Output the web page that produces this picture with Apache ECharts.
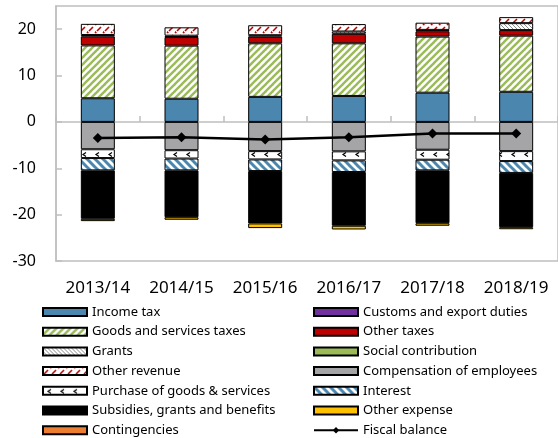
<!DOCTYPE html>
<html>
<head>
<meta charset="utf-8">
<script src="https://cdn.jsdelivr.net/npm/echarts@6/dist/echarts.min.js"></script>
<style>html,body{margin:0;padding:0;background:#fff;overflow:hidden;}#chart{width:558px;height:438px;}</style>
</head>
<body>
<div id="chart"></div>
<script>
const categories = ['2013/14','2014/15','2015/16','2016/17','2017/18','2018/19'];
const incomeTax = [5.1, 5.0, 5.4, 5.6, 6.3, 6.5];
const customsDuties = [0, 0, 0, 0, 0, 0];
const goodsServicesTaxes = [11.4, 11.45, 11.55, 11.35, 12.1, 12.1];
const otherTaxes = [1.95, 1.85, 1.45, 2.05, 1.15, 1.2];
const socialContribution = [0, 0, 0, 0, 0, 0];
const grants = [0.3, 0.3, 0.3, 0.5, 0.3, 1.5];
const otherRevenue = [2.4, 1.8, 2.15, 1.6, 1.55, 1.3];
const compensation = [-5.9, -6.1, -6.3, -6.35, -6.0, -6.3];
const purchaseGoods = [-1.9, -1.8, -1.8, -1.95, -2.15, -2.15];
const interest = [-2.65, -2.55, -2.5, -2.5, -2.3, -2.55];
const subsidies = [-10.45, -10.1, -11.3, -11.6, -11.4, -11.7];
const otherExpense = [-0.5, -0.55, -1.0, -0.8, -0.55, -0.45];
const contingencies = [0, 0, 0, 0, 0, 0];
const fiscalBalance = [-3.45, -3.3, -3.8, -3.3, -2.5, -2.5];
const yTicks = [-30, -20, -10, 0, 10, 20];

function pattern(w, h, draw) {
  const c = document.createElement('canvas');
  c.width = w; c.height = h;
  const ctx = c.getContext('2d');
  ctx.fillStyle = '#fff';
  ctx.fillRect(0, 0, w, h);
  draw(ctx, w, h);
  return { image: c, repeat: 'repeat' };
}
function upDiag(color, lw, size) {
  return pattern(size, size, (ctx) => {
    ctx.strokeStyle = color; ctx.lineWidth = lw;
    ctx.beginPath(); ctx.moveTo(-1, size + 1); ctx.lineTo(size + 1, -1); ctx.stroke();
    ctx.beginPath(); ctx.moveTo(-1 - size, size + 1); ctx.lineTo(1, -1); ctx.stroke();
    ctx.beginPath(); ctx.moveTo(size - 1, size + 1); ctx.lineTo(2 * size + 1, -1); ctx.stroke();
  });
}
function downDiag(color, lw, size) {
  return pattern(size, size, (ctx) => {
    ctx.strokeStyle = color; ctx.lineWidth = lw;
    ctx.beginPath(); ctx.moveTo(-1, -1); ctx.lineTo(size + 1, size + 1); ctx.stroke();
    ctx.beginPath(); ctx.moveTo(-1 - size, -1); ctx.lineTo(1, size + 1); ctx.stroke();
    ctx.beginPath(); ctx.moveTo(size - 1, -1); ctx.lineTo(2 * size + 1, size + 1); ctx.stroke();
  });
}
const goodsPattern = upDiag('#9BBB59', 2.4, 7);
const otherRevPattern = pattern(8, 8, (ctx) => {
  ctx.strokeStyle = '#C00000'; ctx.lineWidth = 1.6;
  ctx.beginPath(); ctx.moveTo(1, 7); ctx.lineTo(5, 3); ctx.stroke();
  ctx.beginPath(); ctx.moveTo(-3, 3); ctx.lineTo(1, -1); ctx.stroke();
  ctx.beginPath(); ctx.moveTo(5, 11); ctx.lineTo(9, 7); ctx.stroke();
  ctx.beginPath(); ctx.moveTo(7, 1); ctx.lineTo(9, -1); ctx.stroke();
});
const grantsPattern = downDiag('#8C8C8C', 1, 4);
const interestPattern = downDiag('#4A86AE', 3, 8);
const purchasePattern = pattern(13, 10, (ctx) => {
  ctx.strokeStyle = '#000'; ctx.lineWidth = 1.2;
  ctx.beginPath(); ctx.moveTo(8, 2.5); ctx.lineTo(5, 4.5); ctx.lineTo(8, 6.5); ctx.stroke();
});

const BORDER = { borderColor: '#000', borderWidth: 1 };
function toData(arr) { return arr.map(v => (v === 0 ? null : v)); }
function bar(name, data, color) {
  return {
    name: name, type: 'bar', stack: 'total', barWidth: 34,
    xAxisIndex: 0, yAxisIndex: 0,
    data: toData(data),
    itemStyle: Object.assign({ color: color }, BORDER),
    emphasis: { disabled: true }
  };
}

const series = [
  bar('Income tax', incomeTax, '#4A86AE'),
  bar('Customs and export duties', customsDuties, '#7030A0'),
  bar('Goods and services taxes', goodsServicesTaxes, goodsPattern),
  bar('Other taxes', otherTaxes, '#C00000'),
  bar('Social contribution', socialContribution, '#9BBB59'),
  bar('Grants', grants, grantsPattern),
  bar('Other revenue', otherRevenue, otherRevPattern),
  bar('Compensation of employees', compensation, '#A5A5A8'),
  bar('Purchase of goods & services', purchaseGoods, purchasePattern),
  bar('Interest', interest, interestPattern),
  bar('Subsidies, grants and benefits', subsidies, '#000000'),
  bar('Other expense', otherExpense, '#FFC000'),
  bar('Contingencies', contingencies, '#ED7D31'),
  {
    name: 'Fiscal balance', type: 'line', data: fiscalBalance,
    xAxisIndex: 0, yAxisIndex: 0, z: 10,
    symbol: 'diamond', symbolSize: 10,
    lineStyle: { color: '#000', width: 2.5 },
    itemStyle: { color: '#000' },
    emphasis: { disabled: true }
  }
];

const legendText = { fontFamily: 'Noto Sans', fontSize: 13, color: '#000', lineHeight: 14 };
function legendItems(names) { return names.map(n => (n === 'Fiscal balance' ? { name: n } : { name: n, icon: 'rect' })); }
const option = {
  animation: false,
  backgroundColor: '#fff',
  grid: { left: 56, top: 6, right: -5, bottom: 177, show: true, borderColor: '#BFBFBF', borderWidth: 1.5, backgroundColor: 'transparent' },
  xAxis: [
    {
      type: 'category', data: categories, position: 'bottom',
      axisLine: { show: true, onZero: true, lineStyle: { color: '#BFBFBF', width: 1.5 } },
      axisTick: { show: true, inside: true, length: 6, lineStyle: { color: '#BFBFBF', width: 1.5 } },
      axisLabel: { show: false }, splitLine: { show: false }
    },
    {
      type: 'category', data: categories, position: 'bottom',
      axisLine: { show: false, onZero: false }, axisTick: { show: false },
      axisLabel: { show: true, interval: 0, margin: 19, fontFamily: 'Noto Sans', fontSize: 17, color: '#000' },
      splitLine: { show: false }
    }
  ],
  yAxis: {
    type: 'value', min: -30, max: 25, interval: 10,
    axisLine: { show: true, lineStyle: { color: '#BFBFBF', width: 1.5 } },
    axisTick: { show: true, inside: true, length: 6, customValues: yTicks, lineStyle: { color: '#BFBFBF', width: 1.5 } },
    axisLabel: { margin: 20, customValues: yTicks, fontFamily: 'Noto Sans', fontSize: 16, color: '#000' },
    splitLine: { show: false }
  },
  legend: [
    {
      orient: 'vertical', left: 42, top: 305, padding: 0, itemWidth: 44, itemHeight: 8, itemGap: 5.7,
      textStyle: legendText, selectedMode: false,
      data: legendItems(['Income tax', 'Goods and services taxes', 'Grants', 'Other revenue', 'Purchase of goods & services', 'Subsidies, grants and benefits', 'Contingencies'])
    },
    {
      orient: 'vertical', left: 313, top: 305, padding: 0, itemWidth: 44, itemHeight: 8, itemGap: 5.7,
      textStyle: legendText, selectedMode: false,
      data: legendItems(['Customs and export duties', 'Other taxes', 'Social contribution', 'Compensation of employees', 'Interest', 'Other expense', 'Fiscal balance'])
    }
  ],
  series: series
};
const chart = echarts.init(document.getElementById('chart'), null, { renderer: 'canvas' });
chart.setOption(option);
</script>
</body>
</html>
